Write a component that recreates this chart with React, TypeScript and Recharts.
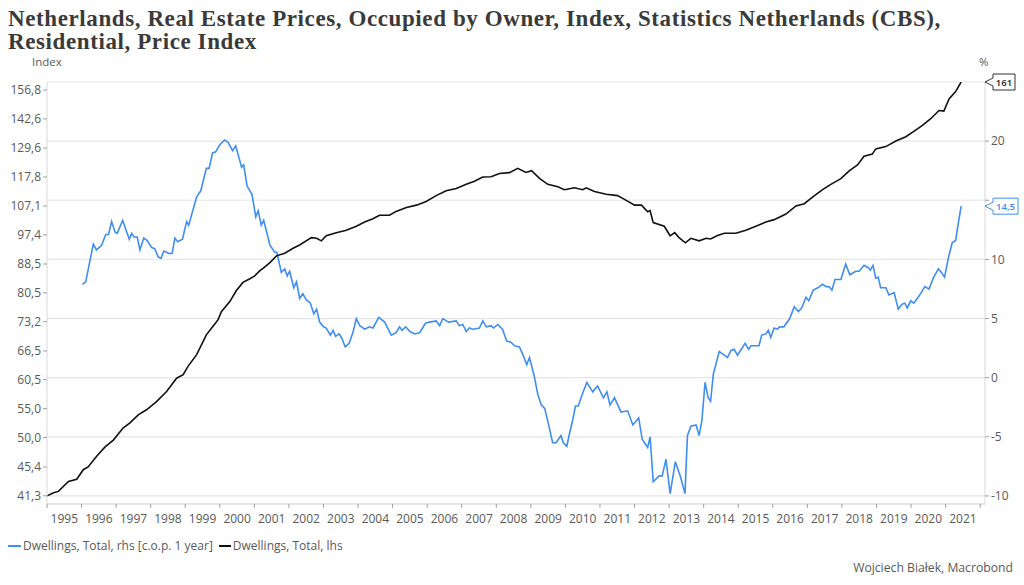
import { LineChart, Line, XAxis, YAxis, CartesianGrid, ReferenceDot } from 'recharts';

// year-on-year change, % (rhs)
const yoyChange: [number, number][] = [
  [1996.03, 7.9], [1996.12, 8.1], [1996.34, 11.3], [1996.43, 10.8], [1996.58, 11.2], [1996.7, 12.1],
  [1996.78, 12.1], [1996.87, 13.2], [1996.97, 12.3], [1997.03, 12.2], [1997.19, 13.3], [1997.38, 11.7],
  [1997.45, 12.2], [1997.52, 11.9], [1997.61, 11.9], [1997.69, 10.8], [1997.8, 11.8], [1997.9, 11.6],
  [1998.03, 11.0], [1998.12, 10.9], [1998.22, 10.2], [1998.3, 10.1], [1998.38, 10.7], [1998.53, 10.5],
  [1998.62, 10.5], [1998.7, 11.8], [1998.78, 11.5], [1998.92, 11.7], [1999.04, 13.2], [1999.1, 12.9],
  [1999.33, 15.3], [1999.45, 15.8], [1999.61, 17.7], [1999.69, 17.7], [1999.79, 19.0], [1999.88, 19.1],
  [2000.0, 19.7], [2000.14, 20.1], [2000.24, 19.9], [2000.37, 19.2], [2000.46, 19.6], [2000.63, 17.8],
  [2000.69, 18.0], [2000.79, 16.2], [2000.93, 15.5], [2001.04, 13.6], [2001.11, 14.1], [2001.2, 12.9],
  [2001.27, 13.3], [2001.45, 11.2], [2001.59, 10.6], [2001.65, 10.6], [2001.78, 8.9], [2001.88, 9.2],
  [2001.95, 8.6], [2002.02, 9.0], [2002.14, 7.6], [2002.22, 8.1], [2002.31, 6.7], [2002.4, 7.1],
  [2002.5, 6.6], [2002.62, 6.3], [2002.72, 5.4], [2002.8, 5.8], [2002.89, 4.7], [2003.0, 4.3],
  [2003.08, 4.2], [2003.2, 3.6], [2003.28, 4.0], [2003.35, 3.5], [2003.45, 3.7], [2003.52, 3.4],
  [2003.63, 2.6], [2003.74, 2.9], [2003.85, 3.8], [2003.95, 5.0], [2004.05, 4.4], [2004.19, 4.1],
  [2004.33, 4.3], [2004.43, 4.2], [2004.6, 5.1], [2004.77, 4.7], [2004.96, 3.6], [2005.1, 3.8],
  [2005.2, 4.3], [2005.27, 4.0], [2005.38, 4.3], [2005.5, 3.9], [2005.64, 3.7], [2005.78, 3.8],
  [2005.95, 4.6], [2006.07, 4.7], [2006.26, 4.8], [2006.36, 4.4], [2006.45, 5.0], [2006.62, 4.7],
  [2006.84, 4.8], [2006.93, 4.4], [2007.03, 4.5], [2007.13, 3.9], [2007.22, 4.2], [2007.32, 4.1],
  [2007.51, 4.2], [2007.61, 4.8], [2007.71, 4.3], [2007.85, 4.4], [2007.92, 4.2], [2008.04, 4.5],
  [2008.18, 4.1], [2008.3, 3.1], [2008.42, 3.0], [2008.53, 2.7], [2008.67, 2.6], [2008.79, 1.8],
  [2008.88, 1.1], [2008.96, 1.7], [2009.1, 0.1], [2009.2, -1.4], [2009.3, -2.3], [2009.4, -2.6],
  [2009.5, -3.8], [2009.63, -5.5], [2009.73, -5.5], [2009.87, -4.9], [2009.94, -5.5], [2010.04, -5.8],
  [2010.12, -4.7], [2010.21, -3.6], [2010.29, -2.4], [2010.37, -2.4], [2010.5, -1.3], [2010.62, -0.4],
  [2010.79, -1.2], [2010.93, -0.7], [2011.1, -1.7], [2011.2, -1.2], [2011.29, -2.3], [2011.42, -1.7],
  [2011.61, -2.9], [2011.8, -2.8], [2011.95, -4.0], [2012.12, -3.4], [2012.22, -5.2], [2012.38, -5.9],
  [2012.45, -5.0], [2012.54, -8.8], [2012.71, -8.3], [2012.8, -8.3], [2012.91, -6.9], [2013.03, -9.8],
  [2013.18, -7.1], [2013.32, -8.3], [2013.46, -9.8], [2013.53, -4.9], [2013.63, -4.1], [2013.78, -4.0],
  [2013.87, -4.9], [2013.95, -3.6], [2014.04, -0.4], [2014.13, -1.7], [2014.2, -2.0], [2014.28, 0.3],
  [2014.45, 2.2], [2014.6, 1.9], [2014.69, 1.7], [2014.79, 2.3], [2014.88, 2.4], [2014.98, 1.9],
  [2015.2, 2.9], [2015.3, 2.4], [2015.37, 2.7], [2015.6, 2.7], [2015.68, 3.6], [2015.8, 3.7],
  [2015.87, 4.0], [2015.94, 3.4], [2016.04, 4.2], [2016.13, 4.1], [2016.2, 4.3], [2016.32, 4.3],
  [2016.49, 5.0], [2016.62, 6.0], [2016.74, 5.6], [2016.84, 5.9], [2016.96, 6.8], [2017.04, 6.5],
  [2017.17, 7.4], [2017.3, 7.6], [2017.44, 7.9], [2017.54, 7.7], [2017.63, 7.7], [2017.71, 7.4],
  [2017.8, 8.3], [2017.97, 8.3], [2018.11, 9.6], [2018.23, 8.7], [2018.4, 9.0], [2018.5, 9.0],
  [2018.64, 9.5], [2018.76, 9.3], [2018.82, 9.1], [2018.9, 9.5], [2018.98, 8.4], [2019.05, 8.5],
  [2019.12, 7.6], [2019.27, 7.6], [2019.36, 7.0], [2019.51, 7.2], [2019.63, 5.8], [2019.73, 6.2],
  [2019.82, 6.3], [2019.89, 5.9], [2019.99, 6.5], [2020.08, 6.3], [2020.23, 6.9], [2020.4, 7.7],
  [2020.52, 7.5], [2020.64, 8.4], [2020.79, 9.2], [2020.88, 8.9], [2020.97, 8.5], [2021.07, 10.0],
  [2021.19, 11.4], [2021.29, 11.6], [2021.37, 13.1], [2021.45, 14.5],
];

// price index (lhs, log scale)
const priceIndex: [number, number][] = [
  [1995.0, 41.3], [1995.1, 41.5], [1995.19, 41.7], [1995.33, 41.9], [1995.62, 43.3], [1995.86, 43.6],
  [1996.05, 45.0], [1996.19, 45.4], [1996.43, 47.0], [1996.68, 48.5], [1996.92, 49.6], [1997.2, 51.6],
  [1997.4, 52.5], [1997.64, 53.9], [1997.88, 54.8], [1998.17, 56.3], [1998.46, 58.2], [1998.75, 60.8],
  [1998.94, 61.5], [1999.08, 63.2], [1999.33, 65.7], [1999.61, 70.1], [1999.81, 72.2], [1999.95, 73.7],
  [2000.05, 75.7], [2000.29, 78.2], [2000.48, 81.1], [2000.67, 83.3], [2000.87, 84.3], [2001.01, 85.1],
  [2001.16, 86.6], [2001.26, 87.3], [2001.45, 88.9], [2001.64, 90.9], [2001.88, 91.7], [2002.12, 93.2],
  [2002.31, 94.2], [2002.65, 96.5], [2002.8, 96.3], [2002.94, 95.5], [2003.08, 97.1], [2003.37, 98.1],
  [2003.66, 98.9], [2003.95, 100.2], [2004.19, 101.6], [2004.43, 102.7], [2004.62, 103.9], [2004.91, 103.9],
  [2005.1, 105.2], [2005.4, 106.6], [2005.69, 107.4], [2005.97, 108.7], [2006.26, 110.8], [2006.55, 112.6],
  [2006.84, 113.4], [2007.13, 115.0], [2007.37, 116.2], [2007.61, 117.8], [2007.85, 117.9], [2008.09, 119.2],
  [2008.38, 119.5], [2008.62, 121.2], [2008.86, 119.6], [2009.02, 120.3], [2009.25, 117.3], [2009.49, 115.0],
  [2009.78, 114.1], [2009.97, 113.0], [2010.26, 113.7], [2010.5, 113.0], [2010.6, 113.7], [2010.84, 112.3],
  [2011.18, 111.3], [2011.51, 110.8], [2011.76, 109.1], [2012.0, 107.4], [2012.2, 107.4], [2012.38, 105.1],
  [2012.45, 105.5], [2012.54, 101.4], [2012.86, 100.2], [2013.03, 97.1], [2013.16, 98.1], [2013.28, 96.6],
  [2013.47, 94.9], [2013.63, 96.3], [2013.87, 95.5], [2014.07, 96.3], [2014.2, 96.1], [2014.4, 97.2],
  [2014.6, 97.9], [2014.93, 97.9], [2015.22, 98.9], [2015.51, 100.2], [2015.8, 101.6], [2016.04, 102.4],
  [2016.38, 104.3], [2016.67, 107.1], [2016.91, 107.9], [2017.15, 110.3], [2017.44, 113.0], [2017.68, 115.0],
  [2017.97, 117.2], [2018.21, 120.2], [2018.45, 122.6], [2018.64, 126.1], [2018.88, 127.0], [2018.98, 129.2],
  [2019.27, 130.2], [2019.56, 132.6], [2019.85, 134.5], [2020.09, 137.0], [2020.33, 139.6], [2020.57, 142.7],
  [2020.81, 146.6], [2020.95, 146.3], [2021.1, 152.3], [2021.29, 156.0], [2021.45, 161.0],
];

const leftTicks = [41.3, 45.4, 50.0, 55.0, 60.5, 66.5, 73.2, 80.5, 88.5, 97.4, 107.1, 117.8, 129.6, 142.6, 156.8];
const rightTicks = [-10, -5, 0, 5, 10, 15, 20, 25];
const hiddenRightLabels = [15, 25]; // covered by the last-value callouts
const yearTicks = Array.from({ length: 28 }, (_, i) => 1995 + i);

const X_MAX = 2022.14;
const BLUE = '#3f8ef0';
const BLACK = '#111111';
const GRAY_TEXT = '#595959';
const FONT = '"Open Sans", sans-serif';

const yoyData = yoyChange.map(([year, v]) => ({ year, yoy: v }));
const indexData = priceIndex.map(([year, v]) => ({ year, index: v }));
const lastYoy = yoyChange[yoyChange.length - 1][1];
const lastIndex = priceIndex[priceIndex.length - 1][1];

const fmt = (v: number) => v.toFixed(1).replace('.', ',');

const YearTick = (props: any) => {
  const { x, y, payload } = props;
  if (payload.value >= 2022) return <g />;
  return (
    <text x={x + 17.3} y={y + 13} textAnchor="middle" fill={GRAY_TEXT} fontSize={12} fontFamily={FONT}>
      {payload.value}
    </text>
  );
};

const Callout = ({ cx, cy, text, color, textColor }: any) => {
  const bx = cx + 8;
  const w = text.length > 3 ? 25 : 22;
  return (
    <g>
      <path
        d={`M${cx},${cy} L${bx},${cy - 4} L${bx},${cy - 8} L${bx + w},${cy - 8} L${bx + w},${cy + 8} L${bx},${cy + 8} L${bx},${cy + 4} Z`}
        fill="#fff"
        stroke={color}
        strokeWidth={1}
      />
      <text x={bx + w / 2} y={cy + 3.5} textAnchor="middle" fontSize={9.5} fontFamily={FONT} fill={textColor} fontWeight={600}>
        {text}
      </text>
    </g>
  );
};

export default function App() {
  return (
    <div style={{ position: 'fixed', left: 0, top: 0, width: 1024, height: 585, background: '#fff', fontFamily: FONT }}>
      <div
        style={{
          position: 'absolute',
          left: 8,
          top: 7,
          fontFamily: '"Liberation Serif", serif',
          fontWeight: 700,
          fontSize: 23,
          lineHeight: '23px',
          letterSpacing: 0.6,
          color: '#3a3a3a',
          whiteSpace: 'nowrap',
        }}
      >
        Netherlands, Real Estate Prices, Occupied by Owner, Index, Statistics Netherlands (CBS),
        <br />
        Residential, Price Index
      </div>
      <div style={{ position: 'absolute', left: 32, top: 54, fontSize: 11.5, color: GRAY_TEXT }}>Index</div>
      <div style={{ position: 'absolute', left: 979, top: 54, fontSize: 11.5, color: GRAY_TEXT }}>%</div>

      <div style={{ position: 'absolute', left: 0, top: 0 }}>
        <LineChart width={1024} height={530} margin={{ top: 82, right: 5, bottom: 0, left: 7 }}>
          <CartesianGrid yAxisId="right" vertical={false} stroke="#e6e6e6" strokeWidth={1.2} />
          <XAxis
            dataKey="year"
            type="number"
            domain={[1995, X_MAX]}
            allowDataOverflow
            ticks={yearTicks}
            interval={0}
            height={26}
            axisLine={{ stroke: '#d9d9d9' }}
            tickLine={{ stroke: '#a0a0a0' }}
            tickSize={4}
            tick={<YearTick />}
          />
          <YAxis
            yAxisId="left"
            scale="log"
            type="number"
            domain={[40.2, 161]}
            allowDataOverflow
            ticks={leftTicks}
            interval={0}
            width={40}
            tickFormatter={fmt}
            axisLine={{ stroke: '#d9d9d9' }}
            tickLine={{ stroke: '#a0a0a0' }}
            tickSize={4}
            tick={{ fill: GRAY_TEXT, fontSize: 12, fontFamily: FONT }}
          />
          <YAxis
            yAxisId="right"
            orientation="right"
            type="number"
            domain={[-10.68, 25]}
            allowDataOverflow
            ticks={rightTicks}
            interval={0}
            width={34}
            tickFormatter={(v: number) => (hiddenRightLabels.includes(v) ? '' : String(v))}
            axisLine={{ stroke: '#d9d9d9' }}
            tickLine={{ stroke: '#a0a0a0' }}
            tickSize={4}
            tick={{ fill: GRAY_TEXT, fontSize: 12, fontFamily: FONT }}
          />
          <Line
            yAxisId="right"
            data={yoyData}
            dataKey="yoy"
            stroke={BLUE}
            strokeWidth={1.6}
            dot={false}
            isAnimationActive={false}
          />
          <Line
            yAxisId="left"
            data={indexData}
            dataKey="index"
            stroke={BLACK}
            strokeWidth={1.6}
            dot={false}
            isAnimationActive={false}
          />
          <ReferenceDot
            yAxisId="left"
            x={X_MAX}
            y={lastIndex}
            ifOverflow="visible"
            shape={(p: any) => <Callout cx={p.cx} cy={p.cy} text={String(Math.round(lastIndex))} color="#333" textColor="#222" />}
          />
          <ReferenceDot
            yAxisId="right"
            x={X_MAX}
            y={lastYoy}
            ifOverflow="visible"
            shape={(p: any) => <Callout cx={p.cx} cy={p.cy} text={fmt(lastYoy)} color={BLUE} textColor={BLUE} />}
          />
        </LineChart>
      </div>

      <div style={{ position: 'absolute', left: 8, top: 537, fontSize: 12, color: GRAY_TEXT, display: 'flex', alignItems: 'center' }}>
        <span style={{ display: 'inline-block', width: 13, height: 2, background: BLUE, marginRight: 2 }} />
        <span style={{ marginRight: 6 }}>Dwellings, Total, rhs [c.o.p. 1 year]</span>
        <span style={{ display: 'inline-block', width: 12, height: 2, background: BLACK, marginRight: 2 }} />
        <span>Dwellings, Total, lhs</span>
      </div>
      <div style={{ position: 'absolute', right: 11, top: 559, fontSize: 12.2, color: GRAY_TEXT }}>Wojciech Białek, Macrobond</div>
    </div>
  );
}
